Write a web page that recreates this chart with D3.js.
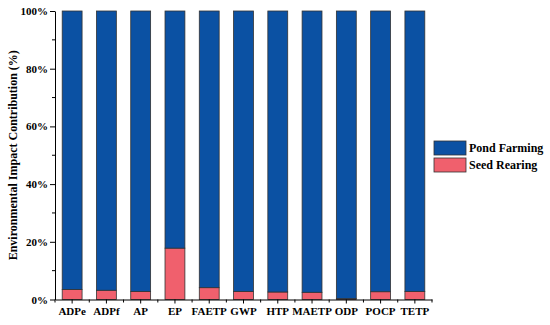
<!DOCTYPE html>
<html><head><meta charset="utf-8">
<script src="https://cdn.jsdelivr.net/npm/d3@7"></script>
<style>body{margin:0;background:#fff}svg{display:block}svg text{font-family:'Liberation Serif','Times New Roman','DejaVu Serif',serif !important;font-weight:bold}</style>
</head><body><svg id="c" width="550" height="325"></svg>
<script>
const categories = ["ADPe","ADPf","AP","EP","FAETP","GWP","HTP","MAETP","ODP","POCP","TETP"];
const seedRearing = [3.5,3.2,2.8,17.8,4.1,2.8,2.6,2.5,0.3,2.7,2.8];
const pondFarming = seedRearing.map(v => 100 - v);
const seriesNames = ["Pond Farming","Seed Rearing"];
const yTicks = [0,20,40,60,80,100];
const colors = {"Pond Farming":"#0b51a3","Seed Rearing":"#f0606d"};

(function(){
const FONT = "'Liberation Serif','Times New Roman',serif";
const svg = d3.select("#c");
const mLeft = 55, mRight = 432, mTop = 11, mBottom = 299.5;
const x = d3.scaleBand().domain(categories).range([mLeft,mRight]).paddingInner(0.42).paddingOuter(0.21);
const y = d3.scaleLinear().domain([0,100]).range([mBottom,mTop]);

const rows = categories.map((c,i)=>({cat:c,"Seed Rearing":seedRearing[i],"Pond Farming":pondFarming[i]}));
const stack = d3.stack().keys(["Seed Rearing","Pond Farming"])(rows);

svg.append("g").selectAll("g").data(stack).join("g")
  .attr("fill", d => colors[d.key])
  .selectAll("rect").data(d => d).join("rect")
  .attr("x", d => x(d.data.cat)).attr("width", x.bandwidth())
  .attr("y", d => y(d[1])).attr("height", d => y(d[0]) - y(d[1]))
  .attr("stroke","#333").attr("stroke-width",0.8);

const gy = svg.append("g").attr("transform",`translate(${mLeft},0)`);
gy.call(d3.axisLeft(y).tickValues(yTicks).tickFormat(d=>d+"%").tickSize(5).tickSizeOuter(0));
gy.attr("font-family",FONT);
gy.selectAll(".tick text").attr("font-size",11).attr("fill","#000").attr("x",-7);
gy.append("g").selectAll("line").data([10,30,50,70,90]).join("line")
  .attr("x1",0).attr("x2",-3).attr("y1",d=>y(d)).attr("y2",d=>y(d)).attr("stroke","#000");
gy.select(".domain").attr("stroke","#000");

const gx = svg.append("g").attr("transform",`translate(0,${mBottom})`);
gx.call(d3.axisBottom(x).tickSize(4).tickSizeOuter(0));
gx.attr("font-family",FONT);
gx.selectAll(".tick text").attr("font-size",11).attr("fill","#000").attr("y",8);
gx.select(".domain").attr("stroke","#000");
const step = x.step();
const bounds = categories.map((c,i)=>mLeft + i*step).concat([mRight]);
gx.append("g").selectAll("line").data(bounds).join("line")
  .attr("x1",d=>d).attr("x2",d=>d).attr("y1",0).attr("y2",3).attr("stroke","#000");

svg.append("text").attr("transform",`translate(17,${(mTop+mBottom)/2}) rotate(-90)`)
  .attr("font-family",FONT).attr("text-anchor","middle").attr("font-size",12).text("Environmental Impact Contribution (%)");

const lg = svg.append("g").attr("transform","translate(434,141)").attr("font-family",FONT);
seriesNames.forEach((s,i)=>{
  const g = lg.append("g").attr("transform",`translate(0,${i*17})`);
  g.append("rect").attr("width",32).attr("height",14).attr("fill",colors[s]).attr("stroke","#333").attr("stroke-width",0.8);
  g.append("text").attr("x",35).attr("y",11).attr("font-size",12).text(s);
});
})();
</script></body></html>
